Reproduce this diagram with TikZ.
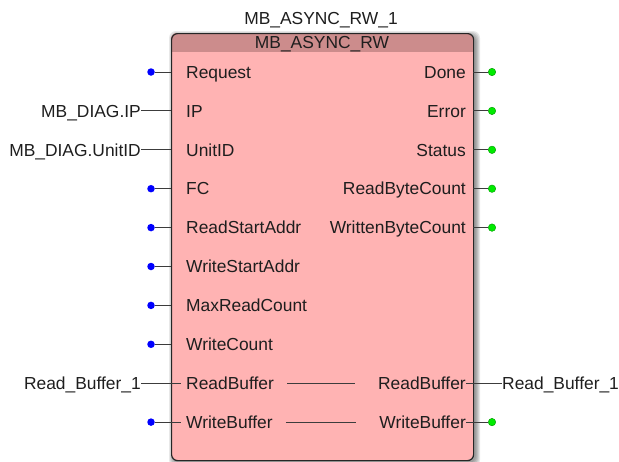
\documentclass[tikz,border=0pt]{standalone}
\usepackage{fontspec}
\setmainfont{Liberation Sans}
\usetikzlibrary{calc}
\definecolor{bodyc}{RGB}{255,179,179}
\definecolor{headc}{RGB}{204,140,140}
\definecolor{wirec}{RGB}{60,60,60}
\definecolor{txtc}{RGB}{30,30,30}
\definecolor{indotc}{RGB}{0,0,255}
\definecolor{outdotc}{RGB}{0,235,0}
\definecolor{outedge}{RGB}{0,150,0}
\begin{document}
\begin{tikzpicture}[x=1pt,y=-1pt,
  lbl/.style={inner sep=0pt, text height=12.4pt, text depth=0pt, text=txtc,
              font=\fontsize{17.4}{20}\selectfont},
  wire/.style={draw=wirec, line width=1pt},
  indot/.style={circle, fill=indotc, inner sep=0pt, minimum size=7.5pt},
  outdot/.style={circle, fill=outdotc, draw=outedge, line width=0.4pt,
                 inner sep=0pt, minimum size=7.5pt}]
\useasboundingbox (0,0) rectangle (619,461);

% soft shadow of the function block
\foreach \i in {0,...,4}
  \fill[black, opacity=0.09, rounded corners=7]
    (171+2-\i,33+2-\i) rectangle (473+3+\i,460+3+\i);

% function block body and header bar
\fill[bodyc, rounded corners=6] (171,33) rectangle (473,460);
\begin{scope}
  \clip[rounded corners=6] (171,33) rectangle (473,460);
  \fill[headc] (171,33) rectangle (473,52);
\end{scope}
\node[draw=black!85, line width=1.2pt, rounded corners=6, inner sep=0pt,
      minimum width=302pt, minimum height=427pt, anchor=north west]
      (fb) at (171,33) {};

% instance name and type
\node[lbl] (inst) at (321,18) {MB\_ASYNC\_RW\_1};
\node[lbl] (type) at (322,42) {MB\_ASYNC\_RW};

% input labels inside the block
\node[lbl, anchor=west] (lReq)  at (186,72.0)  {Request};
\node[lbl, anchor=west] (lIP)   at (186,110.9) {IP};
\node[lbl, anchor=west] (lUID)  at (186,149.8) {UnitID};
\node[lbl, anchor=west] (lFC)   at (186,188.7) {FC};
\node[lbl, anchor=west] (lRSA)  at (186,227.6) {ReadStartAddr};
\node[lbl, anchor=west] (lWSA)  at (186,266.5) {WriteStartAddr};
\node[lbl, anchor=west] (lMRC)  at (186,305.4) {MaxReadCount};
\node[lbl, anchor=west] (lWC)   at (186,344.3) {WriteCount};
\node[lbl, anchor=west] (lRB)   at (186,383.2) {ReadBuffer};
\node[lbl, anchor=west] (lWB)   at (186,422.1) {WriteBuffer};

% output labels inside the block
\node[lbl, anchor=east] (rDone) at (466,72.0)  {Done};
\node[lbl, anchor=east] (rErr)  at (466,110.9) {Error};
\node[lbl, anchor=east] (rStat) at (466,149.8) {Status};
\node[lbl, anchor=east] (rRBC)  at (466,188.7) {ReadByteCount};
\node[lbl, anchor=east] (rWBC)  at (466,227.6) {WrittenByteCount};
\node[lbl, anchor=east] (rRB)   at (466,383.2) {ReadBuffer};
\node[lbl, anchor=east] (rWB)   at (466,422.1) {WriteBuffer};

% in/out pass-through lines
\draw[wire] ($(lRB.east)+(13,0)$) -- ($(rRB.west)+(-23,0)$);
\draw[wire] ($(lWB.east)+(13,0)$) -- ($(rWB.west)+(-23,0)$);

% left pin end points on the block border
\coordinate (pReq) at (171,72.0);
\coordinate (pIP)  at (171,110.9);
\coordinate (pUID) at (171,149.8);
\coordinate (pFC)  at (171,188.7);
\coordinate (pRSA) at (171,227.6);
\coordinate (pWSA) at (171,266.5);
\coordinate (pMRC) at (171,305.4);
\coordinate (pWC)  at (171,344.3);
\coordinate (pRB)  at (181,383.2);
\coordinate (pWB)  at (181,422.1);

% unconnected inputs
\node[indot] (dReq) at (151,72.0)  {};
\node[indot] (dFC)  at (151,188.7) {};
\node[indot] (dRSA) at (151,227.6) {};
\node[indot] (dWSA) at (151,266.5) {};
\node[indot] (dMRC) at (151,305.4) {};
\node[indot] (dWC)  at (151,344.3) {};
\node[indot] (dWB)  at (151,422.1) {};
\foreach \a/\b in {dReq/pReq,dFC/pFC,dRSA/pRSA,dWSA/pWSA,dMRC/pMRC,dWC/pWC,dWB/pWB}
  \draw[wire] (\a) -- (\b);

% connected inputs
\node[lbl, anchor=east] (xIP)  at (141,110.9) {MB\_DIAG.IP};
\node[lbl, anchor=east] (xUID) at (141,149.8) {MB\_DIAG.UnitID};
\node[lbl, anchor=east] (xRBl) at (141,383.2) {Read\_Buffer\_1};
\draw[wire] (xIP.east)  -- (pIP);
\draw[wire] (xUID.east) -- (pUID);
\draw[wire] (xRBl.east) -- (pRB);

% right pin start points on the block border
\coordinate (qDone) at (473,72.0);
\coordinate (qErr)  at (473,110.9);
\coordinate (qStat) at (473,149.8);
\coordinate (qRBC)  at (473,188.7);
\coordinate (qWBC)  at (473,227.6);

% unconnected outputs
\node[outdot] (oDone) at (492,72.0)  {};
\node[outdot] (oErr)  at (492,110.9) {};
\node[outdot] (oStat) at (492,149.8) {};
\node[outdot] (oRBC)  at (492,188.7) {};
\node[outdot] (oWBC)  at (492,227.6) {};
\node[outdot] (oWB)   at (492,422.1) {};
\foreach \a/\b in {qDone/oDone,qErr/oErr,qStat/oStat,qRBC/oRBC,qWBC/oWBC}
  \draw[wire] (\a) -- (\b);
\draw[wire] (rWB.east) -- (oWB);

% connected output
\node[lbl, anchor=west] (xRBr) at (502,383.2) {Read\_Buffer\_1};
\draw[wire] (rRB.east) -- (xRBr.west);
\end{tikzpicture}
\end{document}
